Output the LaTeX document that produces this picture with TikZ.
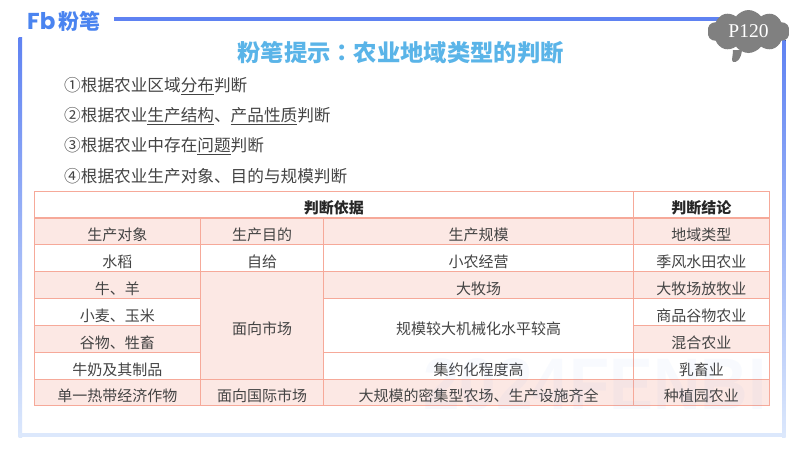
\documentclass[tikz,border=0pt]{standalone}
\usepackage{fontspec}
\setmainfont{Noto Sans CJK SC}
\newfontfamily\colonfont{Noto Sans CJK TC}
\newfontfamily\logofont{Poppins}
\newfontfamily\pagefont{Liberation Serif}
\newfontfamily\markfont{Liberation Sans}
\usetikzlibrary{positioning,shapes.symbols}
\definecolor{framebluetop}{HTML}{5F82F2}
\definecolor{frameblueend}{HTML}{DCE8FC}
\definecolor{titleblue}{HTML}{5AB4E8}
\definecolor{logoblue}{HTML}{4A84F0}
\definecolor{cellline}{HTML}{F6A999}
\definecolor{cellpink}{HTML}{FCE8E4}
\definecolor{celltext}{HTML}{444444}
\begin{document}
\begin{tikzpicture}[x=1pt, y=-1pt, node distance=0pt,
                    cell/.style={draw=cellline, line width=1pt, outer sep=0pt, inner sep=0pt,
                                 text=celltext, font=\fontsize{15}{15}\selectfont,
                                 text height=19pt, text depth=0pt, minimum height=26.86pt},
                    pinkcell/.style={cell, fill=cellpink},
                    whitecell/.style={cell, fill=white},
                    headcell/.style={whitecell, text=black!85, font=\fontsize{15}{15}\selectfont\bfseries},
                    colA/.style={minimum width=166.5pt},
                    colB/.style={minimum width=123pt},
                    colC/.style={minimum width=310pt},
                    colD/.style={minimum width=135.5pt},
                    listitem/.style={inner sep=0pt, anchor=west, text=celltext, font=\fontsize{16.65}{16.65}\selectfont}]
\useasboundingbox (0,0) rectangle (800,450);
\fill[white] (0,0) rectangle (800,450);

\fill[framebluetop] (114,16.5) rectangle (722,20.5);
\fill[top color=framebluetop, bottom color=frameblueend] (18.5,37) rectangle (22,437);
\fill[top color=framebluetop, bottom color=frameblueend] (782,40) rectangle (785.5,437);
\fill[frameblueend] (18.5,433) rectangle (785.5,437);

\node[inner sep=0pt, anchor=west, text=logoblue, font=\logofont\fontsize{23}{23}\selectfont\bfseries] (logofb) at (27,21.5) {Fb};
\node[inner sep=0pt, right=3pt of logofb, text=logoblue, font=\fontsize{21}{21}\selectfont\bfseries] (logoname) {粉笔};

\node[text=titleblue, inner sep=0pt, font=\fontsize{23.3}{23.3}\selectfont\bfseries] (title) at (400.5,53) {粉笔提示{\colonfont：}农业地域类型的判断};

\node[listitem] (item1) at (64,86) {①根据农业区域\underline{分布}判断};
\node[listitem, below=30pt of item1.west, anchor=west] (item2) {②根据农业\underline{生产结构}、\underline{产品性质}判断};
\node[listitem, below=30pt of item2.west, anchor=west] (item3) {③根据农业中存在\underline{问题}判断};
\node[listitem, below=30pt of item3.west, anchor=west] (item4) {④根据农业生产对象、目的与规模判断};

\node[headcell, minimum width=599.5pt, anchor=north west] (basis) at (34,191) {判断依据};
\node[headcell, colD, right=of basis] (verdict) {判断结论};

\node[pinkcell, colA, below=of basis.south west, anchor=north west] (object) {生产对象};
\node[pinkcell, colB, right=of object] (purpose) {生产目的};
\node[pinkcell, colC, right=of purpose] (scale) {生产规模};
\node[pinkcell, colD, right=of scale] (region) {地域类型};

\node[whitecell, colA, below=of object] (rice) {水稻};
\node[whitecell, colB, right=of rice] (selfuse) {自给};
\node[whitecell, colC, right=of selfuse] (smallfarm) {小农经营};
\node[whitecell, colD, right=of smallfarm] (monsoon) {季风水田农业};

\node[pinkcell, colA, below=of rice] (cattle) {牛、羊};
\node[whitecell, colA, below=of cattle] (wheat) {小麦、玉米};
\node[pinkcell, colA, below=of wheat] (grain) {谷物、牲畜};
\node[whitecell, colA, below=of grain] (milk) {牛奶及其制品};
\node[pinkcell, colA, below=of milk] (tropic) {单一热带经济作物};

\node[pinkcell, colB, minimum height=107.44pt, below=of selfuse] (market) {面向市场};
\node[pinkcell, colB, below=of market] (world) {面向国际市场};

\node[pinkcell, colC, below=of smallfarm] (ranch) {大牧场};
\node[whitecell, colC, minimum height=53.72pt, below=of ranch] (machine) {规模较大机械化水平较高};
\node[whitecell, colC, below=of machine] (intensive) {集约化程度高};
\node[pinkcell, colC, below=of intensive] (estate) {大规模的密集型农场、生产设施齐全};

\node[pinkcell, colD, below=of monsoon] (ranching) {大牧场放牧业};
\node[whitecell, colD, below=of ranching] (cereal) {商品谷物农业};
\node[pinkcell, colD, below=of cereal] (mixed) {混合农业};
\node[whitecell, colD, below=of mixed] (dairy) {乳畜业};
\node[pinkcell, colD, below=of dairy] (plantation) {种植园农业};

\draw[cellline, line width=1.6pt] (basis.south west) -- (verdict.south east);

\node[anchor=west, inner sep=0pt, text=logoblue, opacity=.035, xscale=.9,
      font=\markfont\fontsize{73}{73}\selectfont\bfseries] (mark) at (423,384) {2024FENBI};

\fill[black!50] (733,50) .. controls (733,56) and (731,60) .. (733,62) .. controls (736,63) and (741,60) .. (742,50) -- cycle;
\node[cloud, cloud puffs=10, cloud puff arc=110, aspect=1.9, fill=black!50, inner sep=0pt,
      minimum width=82pt, minimum height=43pt, text=white,
      font=\pagefont\fontsize{19.5}{19.5}\selectfont] (page) at (748.5,31.5) {P120};
\end{tikzpicture}
\end{document}
